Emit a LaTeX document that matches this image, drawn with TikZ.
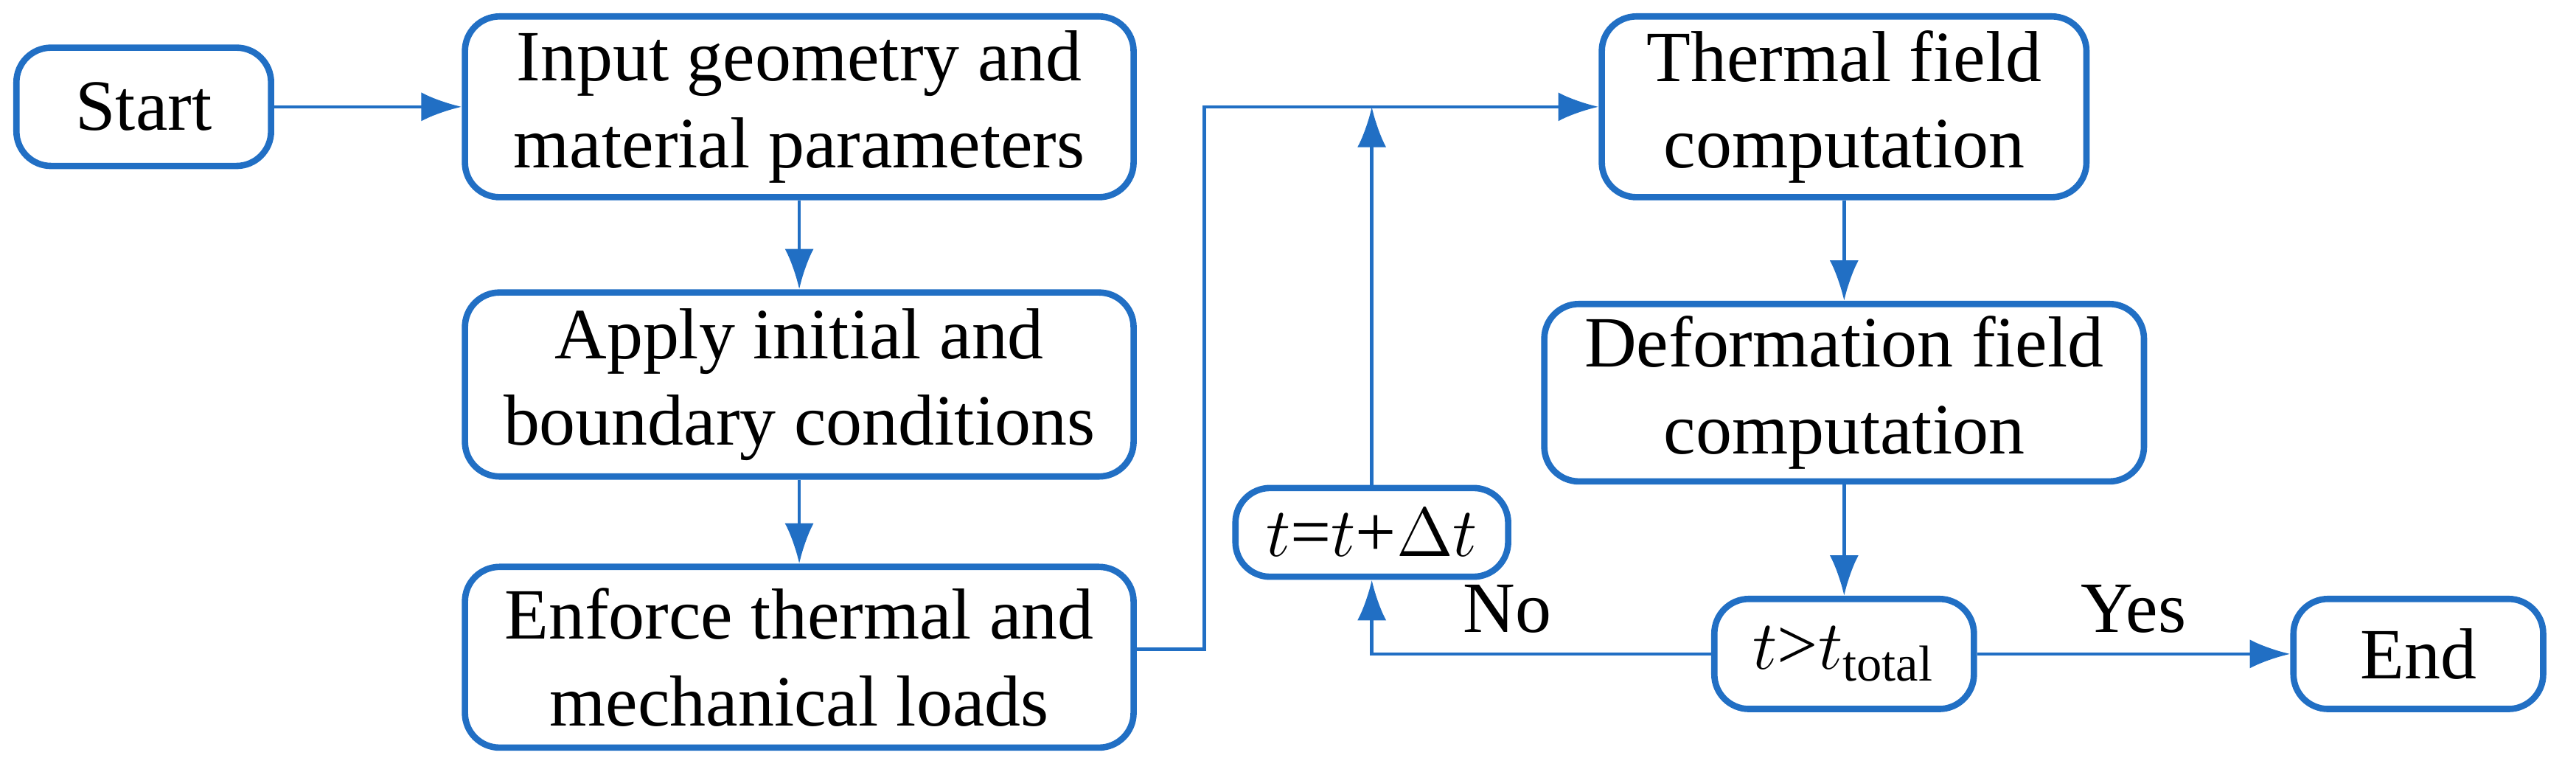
\documentclass[tikz,border=0pt]{standalone}
\usepackage{fontspec}
\setmainfont{Liberation Serif}
\newfontfamily\flowfont{Liberation Serif}
\usepackage{xcolor}
\usetikzlibrary{positioning,arrows.meta}
\definecolor{flowblue}{RGB}{33,111,196}
\begin{document}
\begin{tikzpicture}[
      stage/.style={
        draw=flowblue,
        line width=1.1pt,
        rounded corners=6pt,
        rectangle,
        align=center,
        font=\flowfont\fontsize{12.5}{15}\selectfont,
        inner sep=2pt
      },
      flow/.style={
        -{Latex[length=7pt,width=5pt]},
        draw=flowblue,
        line width=0.6pt
      },
      lbl/.style={
        font=\flowfont\fontsize{12.5}{15}\selectfont
      }
      ]
        \useasboundingbox (0,0) rectangle (15.68,4.61);

        \node[stage, minimum width=1.55cm, minimum height=0.72cm] (start) at (0.875,3.96) {Start};
        \node[stage, minimum width=4.07cm, minimum height=1.1cm] (input) at (4.865,3.96) {Input geometry and\\material parameters};
        \node[stage, minimum width=4.07cm, minimum height=1.12cm] (apply) at (4.865,2.27) {Apply initial and\\boundary conditions};
        \node[stage, minimum width=4.07cm, minimum height=1.1cm] (enforce) at (4.865,0.61) {Enforce thermal and\\mechanical loads};
        \node[stage, minimum width=1.66cm, minimum height=0.54cm] (incr) at (8.35,1.37) {$t$=$t$+$\Delta t$};
        \node[stage, minimum width=2.95cm, minimum height=1.1cm] (thermal) at (11.225,3.96) {Thermal field\\computation};
        \node[stage, minimum width=3.65cm, minimum height=1.08cm] (deform) at (11.225,2.22) {Deformation field\\computation};
        \node[stage, minimum width=1.58cm, minimum height=0.67cm] (check) at (11.225,0.63) {$t$>$t_{\mathrm{total}}$};
        \node[stage, minimum width=1.52cm, minimum height=0.67cm] (end) at (14.72,0.63) {End};

        \coordinate (bend) at (7.33,3.96);

        \draw[flow] (start) -- (input);
        \draw[flow] (input) -- (apply);
        \draw[flow] (apply) -- (enforce);
        \draw[flow] (enforce.east |- 0,0.66) -| (bend) -- (thermal);
        \draw[flow] (incr) -- (incr |- bend);
        \draw[flow] (thermal) -- (deform);
        \draw[flow] (deform) -- (check);
        \draw[flow] (check) -| node[lbl, pos=0.3, above] {No} (incr);
        \draw[flow] (check) -- node[lbl, pos=0.5, above] {Yes} (end);
    \end{tikzpicture}
\end{document}
